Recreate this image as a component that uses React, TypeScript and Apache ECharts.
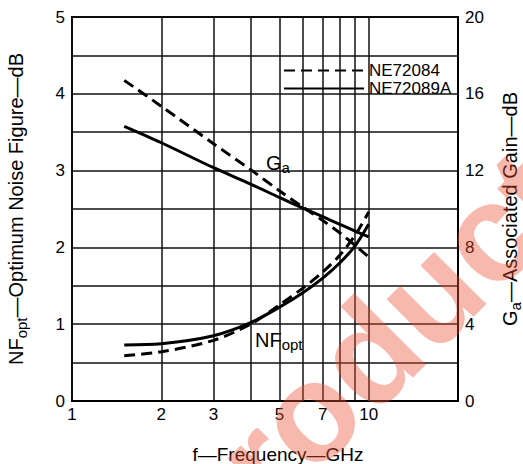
import React, { useEffect, useRef } from "react";
import * as echarts from "echarts";

const freqGHz = [1.5, 2, 3, 4, 5, 6, 7, 8, 9, 10];
const gaNE72084 = [16.7, 15.35, 13.4, 12.05, 10.95, 10.1, 9.4, 8.75, 8.1, 7.5];
const gaNE72089A = [14.3, 13.45, 12.15, 11.3, 10.6, 10.05, 9.6, 9.2, 8.85, 8.55];
const nfNE72084 = [0.59, 0.64, 0.79, 1.0, 1.25, 1.47, 1.68, 1.9, 2.16, 2.46];
const nfNE72089A = [0.73, 0.745, 0.85, 1.02, 1.22, 1.41, 1.6, 1.8, 2.02, 2.3];
const xGridLines = [1, 2, 3, 4, 5, 6, 7, 8, 9, 10];
const xTickLabels = [1, 2, 3, 5, 7, 10];
const leftTickLabels = [0, 1, 2, 3, 4, 5];
const rightTickLabels = [0, 4, 8, 12, 16, 20];

const FONT = "Liberation Sans, Arial, Helvetica, sans-serif";

export default function App() {
  const ref = useRef<HTMLDivElement>(null);
  useEffect(() => {
    if (!ref.current) return;
    const chart = echarts.init(ref.current, null, { renderer: "svg" });
    const pairs = (ys: number[]) => freqGHz.map((f, i) => [f, ys[i]]);
    const dashed = { color: "#000", width: 3, type: [11, 6] as any };
    const solid = { color: "#000", width: 3, type: "solid" as any };
    const curve = {
      type: "line",
      smooth: 0.3,
      symbol: "none",
      showSymbol: false,
      itemStyle: { color: "#000" },
      z: 5,
    };
    chart.setOption({
      animation: false,
      backgroundColor: "#fff",
      textStyle: { fontFamily: FONT, color: "#000" },
      grid: {
        left: 72,
        right: 65,
        top: 17,
        bottom: 63,
        containLabel: false,
        outerBoundsMode: "none",
        show: true,
        borderColor: "#000",
        borderWidth: 2,
        backgroundColor: "transparent",
      },
      legend: {
        orient: "vertical",
        left: 283,
        top: 62,
        itemWidth: 80,
        itemHeight: 14,
        itemGap: 1,
        padding: 0,
        data: ["NE72084", "NE72089A"],
        itemStyle: { opacity: 0 },
        textStyle: { fontSize: 17, color: "#000", fontFamily: FONT },
        selectedMode: false,
      },
      xAxis: {
        type: "log",
        logBase: 10,
        min: 1,
        max: 20,
        axisLabel: { show: false },
        axisTick: { show: false },
        splitLine: { show: false },
        minorSplitLine: { show: false },
        axisLine: { show: true, lineStyle: { color: "#000", width: 2 } },
        name: "f\u2014Frequency\u2014GHz",
        nameLocation: "middle",
        nameGap: 44,
        nameTextStyle: { fontSize: 19, color: "#000", padding: [0, 0, 0, 26] },
      },
      yAxis: [
        {
          type: "value",
          min: 0,
          max: 5,
          interval: 0.5,
          position: "left",
          axisLine: { show: true, lineStyle: { color: "#000", width: 2 } },
          axisTick: { show: false },
          axisLabel: {
            fontSize: 17,
            color: "#000",
            margin: 7,
            formatter: (v: number) => (leftTickLabels.includes(v) ? String(v) : ""),
          },
          splitLine: { show: true, lineStyle: { color: "#111", width: 1.5 } },
          name: "{a|NF}{s|opt}{a|\u2014Optimum Noise Figure\u2014dB}",
          nameLocation: "middle",
          nameRotate: 90,
          nameGap: 45,
          nameTextStyle: {
            rich: {
              a: { fontSize: 20, color: "#000", fontFamily: FONT, lineHeight: 22 },
              s: { fontSize: 15, color: "#000", fontFamily: FONT, lineHeight: 22, padding: [10, 0, 0, 0] },
            },
          },
        },
        {
          type: "value",
          min: 0,
          max: 20,
          interval: 2,
          position: "right",
          axisLine: { show: true, lineStyle: { color: "#000", width: 2 } },
          axisTick: { show: false },
          axisLabel: {
            fontSize: 17,
            color: "#000",
            margin: 7,
            formatter: (v: number) => (rightTickLabels.includes(v) ? String(v) : ""),
          },
          splitLine: { show: false },
          name: "{a|G}{s|a}{a|\u2014Associated Gain\u2014dB}",
          nameLocation: "middle",
          nameRotate: 90,
          nameGap: 41,
          nameTextStyle: {
            rich: {
              a: { fontSize: 20, color: "#000", fontFamily: FONT, lineHeight: 22 },
              s: { fontSize: 15, color: "#000", fontFamily: FONT, lineHeight: 22, padding: [10, 0, 0, 0] },
            },
          },
        },
      ],
      series: [
        {
          ...curve,
          name: "NE72084",
          yAxisIndex: 1,
          lineStyle: dashed,
          data: pairs(gaNE72084),
          markLine: {
            silent: true,
            symbol: ["none", "none"],
            animation: false,
            lineStyle: { color: "#111", width: 1.5, type: "solid" },
            label: {
              show: true,
              position: "start",
              distance: 5,
              fontSize: 17,
              color: "#000",
              fontFamily: FONT,
            },
            emphasis: { disabled: true },
            data: xGridLines.map((v) => ({
              xAxis: v,
              label: {
                show: xTickLabels.includes(v),
                formatter: String(v),
              },
            })),
          },
        },
        {
          ...curve,
          name: "NE72089A",
          yAxisIndex: 1,
          lineStyle: solid,
          data: pairs(gaNE72089A),
        },
        {
          ...curve,
          name: "NE72084",
          yAxisIndex: 0,
          lineStyle: dashed,
          data: pairs(nfNE72084),
        },
        {
          ...curve,
          name: "NE72089A",
          yAxisIndex: 0,
          lineStyle: solid,
          data: pairs(nfNE72089A),
        },
      ],
      graphic: [
        {
          type: "text",
          x: 266,
          y: 152,
          z: 50,
          style: {
            text: "{a|G}{s|a}",
            rich: {
              a: { fontSize: 20, fill: "#000", fontFamily: FONT, lineHeight: 22 },
              s: { fontSize: 15, fill: "#000", fontFamily: FONT, lineHeight: 22, padding: [9, 0, 0, 0] },
            },
          },
        },
        {
          type: "text",
          x: 255,
          y: 329,
          z: 50,
          style: {
            text: "{a|NF}{s|opt}",
            rich: {
              a: { fontSize: 20, fill: "#000", fontFamily: FONT, lineHeight: 22 },
              s: { fontSize: 15, fill: "#000", fontFamily: FONT, lineHeight: 22, padding: [9, 0, 0, 0] },
            },
          },
        },
        {
          type: "text",
          x: 360,
          y: 362,
          rotation: (45 * Math.PI) / 180,
          z: 100,
          silent: true,
          style: {
            text: "Product",
            fontSize: 140,
            fontWeight: "bold",
            fontFamily: FONT,
            fill: "rgba(235,80,50,0.4)",
            align: "center",
            verticalAlign: "middle",
          },
        },
      ],
    });
    return () => chart.dispose();
  }, []);
  return (
    <div
      ref={ref}
      style={{ position: "fixed", left: 0, top: 0, width: 523, height: 464 }}
    />
  );
}
